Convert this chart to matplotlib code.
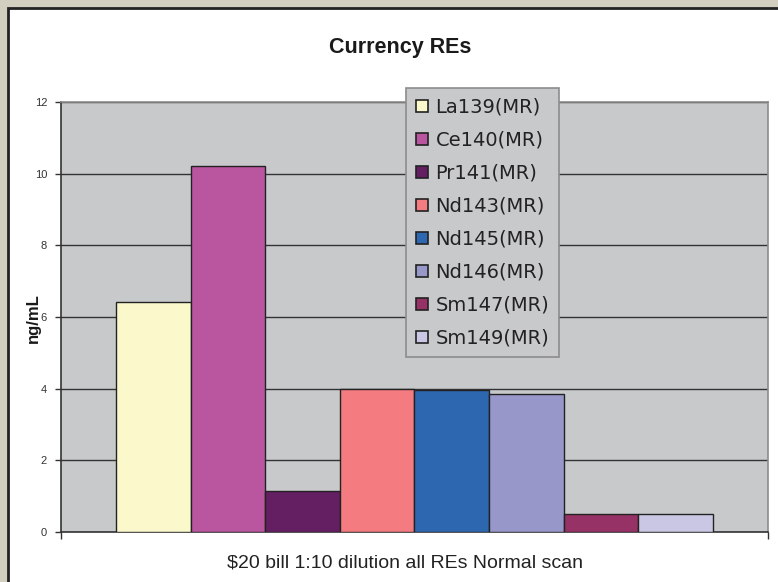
import matplotlib
matplotlib.use("Agg")
import matplotlib.pyplot as plt
from matplotlib.patches import Rectangle

labels = ["La139(MR)", "Ce140(MR)", "Pr141(MR)", "Nd143(MR)",
          "Nd145(MR)", "Nd146(MR)", "Sm147(MR)", "Sm149(MR)"]
values = [6.42, 10.22, 1.15, 3.99, 3.96, 3.85, 0.50, 0.50]
colors = ["#FBF8CC", "#BA55A0", "#631F62", "#F47C80",
          "#2C67B0", "#9897CA", "#963266", "#CAC7E4"]
yticks = [0, 2, 4, 6, 8, 10, 12]
title = "Currency REs"
xlabel = "$20 bill 1:10 dilution all REs Normal scan"
ylabel = "ng/mL"

plt.rcParams['font.family'] = ['Liberation Sans', 'DejaVu Sans']

W, H = 778, 582
fig = plt.figure(figsize=(W/100, H/100), dpi=100)
fig.patch.set_facecolor("#D2CEC0")

# white chart area with dark border
bg = Rectangle((8/W, -0.05), 1.1, 1 - 8/H + 0.05, transform=fig.transFigure,
               facecolor="white", edgecolor="#222222", linewidth=2, zorder=-10)
fig.patches.append(bg)

ax = fig.add_axes([61/W, 1 - 532/H, 707/W, 430/H])
ax.set_zorder(2)
ax.set_facecolor("#C8C9CB")

n = len(values)
xs = [i - (n - 1) / 2 for i in range(n)]
ax.bar(xs, values, width=1.0, color=colors, edgecolor="#222222",
       linewidth=1.0, zorder=3)

ax.set_xlim(-4.74, 4.74)
ax.set_ylim(0, 12)
ax.set_yticks(yticks)
ax.set_yticklabels([str(t) for t in yticks], fontsize=8, color="#333333")
ax.set_xticks([-4.74, 4.74])
ax.set_xticklabels(["", ""])
ax.tick_params(axis="y", direction="out", length=4, width=1, color="#333333", pad=6)
ax.tick_params(axis="x", direction="out", length=5, width=1, color="#333333")
ax.yaxis.grid(True, color="#333333", linewidth=1.0, zorder=1)
ax.set_axisbelow(True)
for s in ["top", "right"]:
    ax.spines[s].set_color("#8C8C8C")
    ax.spines[s].set_linewidth(1.2)
for s in ["left", "bottom"]:
    ax.spines[s].set_color("#333333")
    ax.spines[s].set_linewidth(1.2)

fig.text(400/W, 1 - 48/H, title, ha="center", va="center", fontsize=15.5,
         fontweight="bold", color="#1a1a1a")
fig.text(33/W, 1 - 318/H, ylabel, ha="center", va="center", rotation=90,
         fontsize=12, fontweight="bold", color="#1a1a1a")
fig.text(405/W, 1 - 563/H, xlabel, ha="center", va="center", fontsize=14,
         color="#222222")

handles = [Rectangle((0, 0), 1, 1, facecolor=c, edgecolor="#222222", linewidth=1.2)
           for c in colors]
leg = ax.legend(handles, labels, loc="upper left",
                bbox_to_anchor=(406/W, 1 - 88/H), bbox_transform=fig.transFigure,
                prop={"family": ["DejaVu Sans"], "size": 14},
                frameon=True, fancybox=False, framealpha=1,
                facecolor="#C8C9CB", edgecolor="#8C8C8C",
                handlelength=0.62, handleheight=0.62, handletextpad=0.4,
                labelspacing=0.72, borderpad=0.5, borderaxespad=0)
leg.get_frame().set_linewidth(1.2)
leg.set_zorder(5)
for t in leg.get_texts():
    t.set_color("#222222")

fig.savefig("out.png", dpi=100, facecolor=fig.get_facecolor())
